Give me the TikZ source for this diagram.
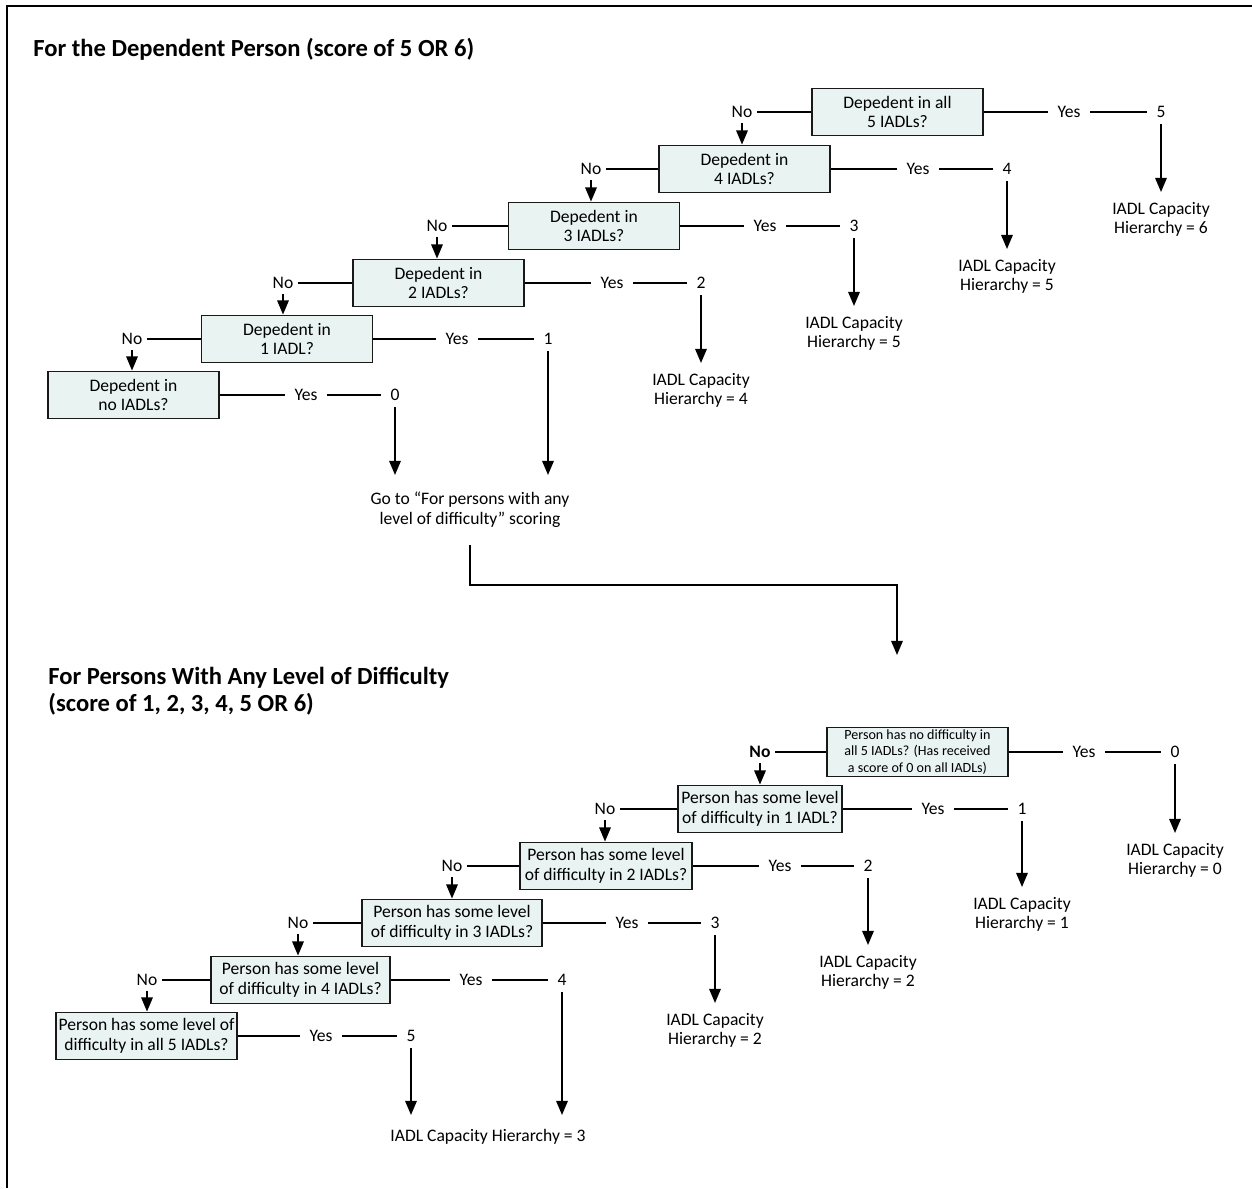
\documentclass[tikz,border=0pt]{standalone}
\usepackage{fontspec}
\setmainfont{Carlito}
\usetikzlibrary{arrows.meta}
\definecolor{boxfill}{RGB}{233,243,242}
\begin{document}
\begin{tikzpicture}[x=0.02cm,y=-0.02cm,
  every node/.style={font=\fontsize{10}{11.2}\selectfont, text=black},
  qbox/.style={draw=black!90, line width=1.1pt, fill=boxfill, align=center, inner sep=1pt, minimum height=0.94cm},
  yeslbl/.style={inner xsep=5.5pt, inner ysep=3pt},
  numlbl/.style={inner xsep=5.5pt, inner ysep=3.6pt},
  nolbl/.style={inner xsep=2.5pt, inner ysep=3pt},
  result/.style={align=center, anchor=north, inner xsep=2pt, inner ysep=5.5pt},
  ln/.style={line width=1pt},
  arr/.style={line width=1pt, -{Triangle[length=8pt,width=6.5pt]}},
  heading/.style={font=\fontsize{14}{15.5}\selectfont\bfseries, align=left, inner sep=0pt, anchor=west}
]
\useasboundingbox (0,0) rectangle (1252,1188);
% page frame (top and left edges)
\draw[line width=1.1pt] (7,1188) -- (7,6) -- (1252,6);

% ---------------- dependent person ----------------
\node[heading] (t1) at (33,49) {For the Dependent Person (score of 5 OR 6)};

\node[qbox, minimum width=3.42cm] (b1) at (897.5,112) {Depedent in all\\5 IADLs?};
\node[qbox, minimum width=3.42cm] (b2) at (744.5,169) {Depedent in\\4 IADLs?};
\node[qbox, minimum width=3.42cm] (b3) at (594,226) {Depedent in\\3 IADLs?};
\node[qbox, minimum width=3.42cm] (b4) at (438.5,283) {Depedent in\\2 IADLs?};
\node[qbox, minimum width=3.42cm] (b5) at (287,339) {Depedent in\\1 IADL?};
\node[qbox, minimum width=3.42cm] (b6) at (133.5,395) {Depedent in\\no IADLs?};

\node[nolbl] (bno1) at (742,112) {No};
\node[nolbl] (bno2) at (591,169) {No};
\node[nolbl] (bno3) at (437,226) {No};
\node[nolbl] (bno4) at (283,283) {No};
\node[nolbl] (bno5) at (132,339) {No};

\node[yeslbl] (by1) at (1069,112) {Yes};
\node[yeslbl] (by2) at (918,169) {Yes};
\node[yeslbl] (by3) at (765,226) {Yes};
\node[yeslbl] (by4) at (612,283) {Yes};
\node[yeslbl] (by5) at (457,339) {Yes};
\node[yeslbl] (by6) at (306,395) {Yes};

\node[numlbl] (bn1) at (1161,112) {5};
\node[numlbl] (bn2) at (1007,169) {4};
\node[numlbl] (bn3) at (854,226) {3};
\node[numlbl] (bn4) at (701,283) {2};
\node[numlbl] (bn5) at (548,339) {1};
\node[numlbl] (bn6) at (395,395) {0};

\node[result] (br1) at (1161,192) {IADL Capacity\\Hierarchy = 6};
\node[result] (br2) at (1007,249) {IADL Capacity\\Hierarchy = 5};
\node[result] (br3) at (854,306) {IADL Capacity\\Hierarchy = 5};
\node[result] (br4) at (701,363) {IADL Capacity\\Hierarchy = 4};
\node[result, inner ysep=9.6pt] (goto) at (470,475) {Go to “For persons with any\\level of difficulty” scoring};

\foreach \i in {1,...,5} {
  \draw[ln] (bno\i) -- (b\i);
}
\foreach \i in {1,...,6} {
  \draw[ln] (b\i) -- (by\i);
  \draw[ln] (by\i) -- (bn\i);
}
\draw[arr] (bno1) -- (bno1 |- b2.north);
\draw[arr] (bno2) -- (bno2 |- b3.north);
\draw[arr] (bno3) -- (bno3 |- b4.north);
\draw[arr] (bno4) -- (bno4 |- b5.north);
\draw[arr] (bno5) -- (bno5 |- b6.north);

\draw[arr] (bn1) -- (br1);
\draw[arr] (bn2) -- (br2);
\draw[arr] (bn3) -- (br3);
\draw[arr] (bn4) -- (br4);
\draw[arr] (bn5) -- (bn5 |- goto.north);
\draw[arr] (bn6) -- (bn6 |- goto.north);

% hand-over to the second chart
\coordinate (handover) at (897,655);
\draw[arr] (goto.south) -- ++(0,40) -| (handover);

% ---------------- any level of difficulty ----------------
\node[heading] (t2) at (48,691) {For Persons With Any Level of Difficulty\\(score of 1, 2, 3, 4, 5 OR 6)};

\node[qbox, minimum width=3.62cm, minimum height=0.98cm, font=\fontsize{8}{9.6}\selectfont] (s0) at (917.5,752)
  {Person has no difficulty in\\all 5 IADLs? (Has received\\a score of 0 on all IADLs)};
\node[qbox, minimum width=3.28cm] (s1) at (760,809) {Person has some level\\of difficulty in 1 IADL?};
\node[qbox, minimum width=3.44cm] (s2) at (606,866) {Person has some level\\of difficulty in 2 IADLs?};
\node[qbox, minimum width=3.6cm] (s3) at (452,923) {Person has some level\\of difficulty in 3 IADLs?};
\node[qbox, minimum width=3.58cm] (s4) at (300.5,980) {Person has some level\\of difficulty in 4 IADLs?};
\node[qbox, minimum width=3.62cm] (s5) at (146.5,1036) {Person has some level of\\difficulty in all 5 IADLs?};

\node[nolbl, font=\fontsize{10}{11.2}\selectfont\bfseries] (sno0) at (760,752) {No};
\node[nolbl] (sno1) at (605,809) {No};
\node[nolbl] (sno2) at (452,866) {No};
\node[nolbl] (sno3) at (298,923) {No};
\node[nolbl] (sno4) at (147,980) {No};

\node[yeslbl] (sy0) at (1084,752) {Yes};
\node[yeslbl] (sy1) at (933,809) {Yes};
\node[yeslbl] (sy2) at (780,866) {Yes};
\node[yeslbl] (sy3) at (627,923) {Yes};
\node[yeslbl] (sy4) at (471,980) {Yes};
\node[yeslbl] (sy5) at (321,1036) {Yes};

\node[numlbl] (sn0) at (1175,752) {0};
\node[numlbl] (sn1) at (1022,809) {1};
\node[numlbl] (sn2) at (868,866) {2};
\node[numlbl] (sn3) at (715,923) {3};
\node[numlbl] (sn4) at (562,980) {4};
\node[numlbl] (sn5) at (411,1036) {5};

\node[result] (sr0) at (1175,833) {IADL Capacity\\Hierarchy = 0};
\node[result] (sr1) at (1022,887) {IADL Capacity\\Hierarchy = 1};
\node[result] (sr2) at (868,945) {IADL Capacity\\Hierarchy = 2};
\node[result] (sr3) at (715,1003) {IADL Capacity\\Hierarchy = 2};
\node[result, inner ysep=8pt] (sr4) at (488,1115) {IADL Capacity Hierarchy = 3};

\foreach \i in {0,...,4} {
  \draw[ln] (sno\i) -- (s\i);
}
\foreach \i in {0,...,5} {
  \draw[ln] (s\i) -- (sy\i);
  \draw[ln] (sy\i) -- (sn\i);
}
\draw[arr] (sno0) -- (sno0 |- s1.north);
\draw[arr] (sno1) -- (sno1 |- s2.north);
\draw[arr] (sno2) -- (sno2 |- s3.north);
\draw[arr] (sno3) -- (sno3 |- s4.north);
\draw[arr] (sno4) -- (sno4 |- s5.north);

\draw[arr] (sn0) -- (sr0);
\draw[arr] (sn1) -- (sr1);
\draw[arr] (sn2) -- (sr2);
\draw[arr] (sn3) -- (sr3);
\draw[arr] (sn4) -- (sn4 |- sr4.north);
\draw[arr] (sn5) -- (sn5 |- sr4.north);
\end{tikzpicture}
\end{document}
